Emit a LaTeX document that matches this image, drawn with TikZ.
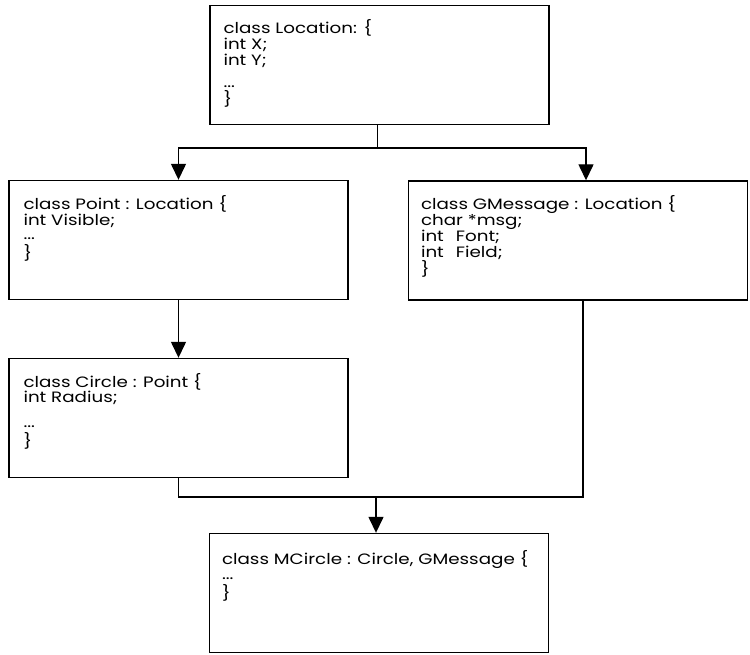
\documentclass[tikz,border=0pt]{standalone}
\usepackage{fontspec}
\setmainfont{Poppins}[FakeStretch=1.22]
\usetikzlibrary{arrows.meta,positioning}

\begin{document}
\begin{tikzpicture}[x=1pt,y=-1pt,line cap=butt,line join=miter,>={Triangle[length=16pt,width=15pt]}]
\tikzset{cls/.style={draw,line width=1.4pt,minimum width=339pt,minimum height=119pt,inner sep=0pt},
txt/.style={anchor=north west,align=left,inner sep=0pt,font=\fontsize{15}{16}\selectfont},
link/.style={line width=1.4pt}
}
\useasboundingbox (0,0) rectangle (750,655);
% class boxes
\node[cls] (loc) at (379.5,65) {};
\node[cls] (pt) at (178.5,240) {};
\node[cls] (gm) at (578,240.5) {};
\node[cls] (cir) at (178.5,418) {};
\node[cls] (mc) at (379,593) {};
% class texts
\node[txt] (loctxt) at ([shift={(14,14)}]loc.north west) {class Location: \{\\int X;\\int Y;\\[6pt]...\\[1pt]\}};
\node[txt] (pttxt) at ([shift={(15,15.3)}]pt.north west) {class Point : Location \{\\int Visible;\\[-2pt]...\\[3pt]\}};
\node[txt] (gmtxt) at ([shift={(13,15.3)}]gm.north west) {class GMessage : Location \{\\char *msg;\\int\hspace{12pt}Font;\\int\hspace{12pt}Field;\\\}};
\node[txt] (cirtxt) at ([shift={(15,15.3)}]cir.north west) {class Circle : Point \{\\[-1pt]int Radius;\\[9pt]...\\[3pt]\}};
\node[txt] (mctxt) at ([shift={(13,17.3)}]mc.north west) {class MCircle : Circle, GMessage \{\\[-1pt]...\\[3pt]\}};
% inheritance links
\coordinate (split) at (377.5,148);
\coordinate (join) at (376,497);
\draw[link] (loc.south -| split) -- (split);
\draw[link,->] (split) -| (pt.north);
\draw[link,->] (split) -| ([xshift=8pt]gm.north);
\draw[link,->] (pt) -- (cir);
\draw[link] (cir.south) |- (join) -| ([xshift=5pt]gm.south);
\draw[link,->] (join) -- (join |- mc.north);
\end{tikzpicture}
\end{document}
